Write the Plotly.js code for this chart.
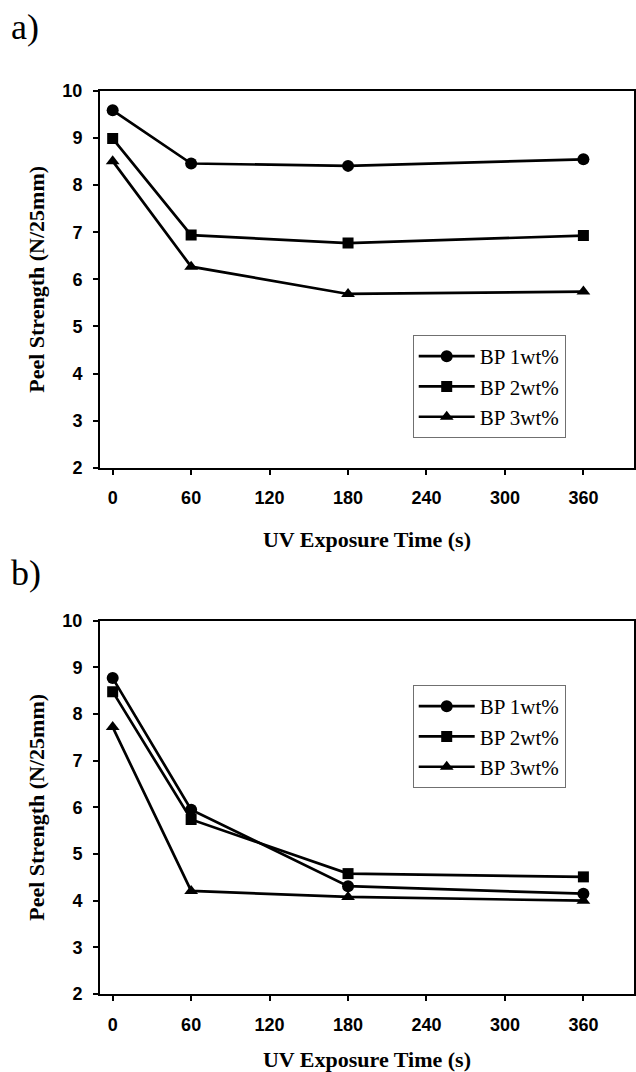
<!DOCTYPE html>
<html>
<head>
<meta charset="utf-8">
<script src="https://cdn.plot.ly/plotly-3.0.1.min.js"></script>
<style>
  html, body { margin: 0; padding: 0; background: #ffffff; }
  #chart { width: 636px; height: 1072px; }
</style>
</head>
<body>
<div id="chart"></div>
<script>
// ---- data ----
var exposureTime = [0, 60, 180, 360];
var seriesNames = ['BP 1wt%', 'BP 2wt%', 'BP 3wt%'];

// panel a)
var a_bp1 = [9.59, 8.46, 8.41, 8.55];
var a_bp2 = [8.99, 6.94, 6.77, 6.93];
var a_bp3 = [8.51, 6.27, 5.69, 5.74];

// panel b)
var b_bp1 = [8.77, 5.95, 4.31, 4.15];
var b_bp2 = [8.48, 5.74, 4.58, 4.51];
var b_bp3 = [7.72, 4.21, 4.08, 4.00];

var xTickVals = [0, 60, 120, 180, 240, 300, 360];
var xTickLabels = ['0', '60', '120', '180', '240', '300', '360'];
var yTickVals = [2, 3, 4, 5, 6, 7, 8, 9, 10];
var yTickLabels = ['2', '3', '4', '5', '6', '7', '8', '9', '10'];

var symbols = ['circle', 'square', 'triangle-up'];
var markerSizes = [12, 11, 12];

function bold(arr) { return arr.map(function (s) { return '<b>' + s + '</b>'; }); }

function makeTrace(y, i, xa, ya, legendId) {
  return {
    x: exposureTime,
    y: y,
    name: seriesNames[i],
    type: 'scatter',
    mode: 'lines+markers',
    xaxis: xa,
    yaxis: ya,
    legend: legendId,
    line: { color: '#000000', width: 2.7 },
    marker: { symbol: symbols[i], size: markerSizes[i], color: '#000000' }
  };
}

var traces = [
  makeTrace(a_bp1, 0, 'x', 'y', 'legend'),
  makeTrace(a_bp2, 1, 'x', 'y', 'legend'),
  makeTrace(a_bp3, 2, 'x', 'y', 'legend'),
  makeTrace(b_bp1, 0, 'x2', 'y2', 'legend2'),
  makeTrace(b_bp2, 1, 'x2', 'y2', 'legend2'),
  makeTrace(b_bp3, 2, 'x2', 'y2', 'legend2')
];

var tickFont = { family: 'Liberation Sans', size: 18, color: '#000000', weight: 700 };
var titleFont = { family: 'Liberation Serif', size: 22, color: '#000000', weight: 700 };
var legendFont = { family: 'Liberation Serif', size: 21, color: '#000000' };
var panelFont = { family: 'Liberation Serif', size: 36, color: '#000000' };

var xRange = [-9.7, 398.7];

function xAxis(anchor) {
  return {
    anchor: anchor,
    domain: [0, 1],
    range: xRange,
    tickmode: 'array',
    tickvals: xTickVals,
    ticktext: bold(xTickLabels),
    ticks: 'outside',
    ticklen: 5,
    tickwidth: 2,
    tickcolor: '#000000',
    showline: true,
    linewidth: 2,
    linecolor: '#000000',
    mirror: true,
    showgrid: false,
    zeroline: false,
    tickfont: tickFont,
    ticklabelstandoff: 8,
    title: { text: '<b>UV Exposure Time (s)</b>', font: titleFont, standoff: 24 }
  };
}

function xCross(over, anchor) {
  return {
    overlaying: over,
    anchor: anchor,
    range: xRange,
    tickmode: 'array',
    tickvals: xTickVals,
    ticks: 'inside',
    ticklen: 5,
    tickwidth: 2,
    tickcolor: '#000000',
    showline: false,
    showgrid: false,
    zeroline: false,
    showticklabels: false
  };
}

function yAxis(anchor, domain) {
  return {
    anchor: anchor,
    domain: domain,
    range: [2, 10],
    tickmode: 'array',
    tickvals: yTickVals,
    ticktext: bold(yTickLabels),
    ticks: 'outside',
    ticklen: 5,
    tickwidth: 2,
    tickcolor: '#000000',
    showline: true,
    linewidth: 2,
    linecolor: '#000000',
    mirror: true,
    showgrid: false,
    zeroline: false,
    tickfont: tickFont,
    ticklabelstandoff: 7,
    title: { text: '<b>Peel Strength (N/25mm)</b>', font: titleFont, standoff: 12 }
  };
}

var legendBase = {
  xanchor: 'left',
  yanchor: 'top',
  bgcolor: '#ffffff',
  bordercolor: '#707070',
  borderwidth: 1,
  font: legendFont,
  itemwidth: 56,
  tracegroupgap: 0
};

var layout = {
  width: 636,
  height: 1072,
  paper_bgcolor: '#ffffff',
  plot_bgcolor: '#ffffff',
  margin: { l: 100, r: 2, t: 91, b: 78 },
  showlegend: true,
  xaxis: xAxis('y'),
  yaxis: yAxis('x', [0.5828, 1]),
  xaxis2: xAxis('y2'),
  yaxis2: yAxis('x2', [0, 0.4134]),
  xaxis3: xCross('x', 'y'),
  xaxis4: xCross('x2', 'y2'),
  legend: Object.assign({}, legendBase, { x: 0.5856, y: 0.7298 }),
  legend2: Object.assign({}, legendBase, { x: 0.5856, y: 0.3422 }),
  annotations: [
    { text: 'a)', xref: 'paper', yref: 'paper', x: -0.17, y: 1.071, xanchor: 'left', yanchor: 'middle',
      showarrow: false, font: panelFont },
    { text: 'b)', xref: 'paper', yref: 'paper', x: -0.17, y: 0.466, xanchor: 'left', yanchor: 'middle',
      showarrow: false, font: panelFont }
  ]
};

Plotly.newPlot('chart', traces, layout, { displayModeBar: false, staticPlot: true });
</script>
</body>
</html>
